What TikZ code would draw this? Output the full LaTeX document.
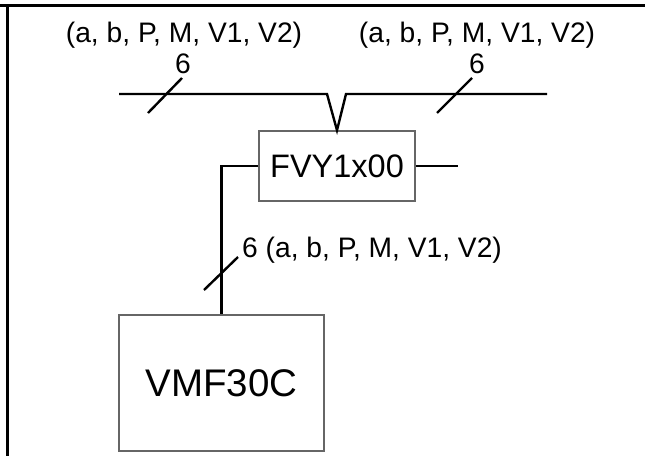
\documentclass[tikz,border=0pt]{standalone}
\usepackage{fontspec}
\setmainfont{Liberation Sans}
\usepackage{xcolor}
\usetikzlibrary{positioning}

\tikzset{
  unit/.style={draw=black!60,line width=1.5pt,inner sep=0pt},
  wire/.style={line width=2.4pt},
  lbl/.style={inner sep=0pt,font=\fontsize{28.2}{31}\selectfont}
}

\begin{document}
\begin{tikzpicture}[x=1pt,y=-1pt]
  \useasboundingbox (0,0) rectangle (647,456);
  % frame
  \draw[line width=3pt] (0,5.5) -- (645,5.5);
  \draw[line width=3pt] (7,5.5) -- (7,456);
  % units
  \node[unit,minimum width=156pt,minimum height=70pt,font=\fontsize{32.5}{35}\selectfont] (fvy) at (337,166) {FVY1x00};
  \node[unit,minimum width=205pt,minimum height=136pt,font=\fontsize{38.5}{42}\selectfont] (vmf) at (221.5,383) {VMF30C};
  % bus
  \coordinate (busL) at (119,94);
  \coordinate (busR) at (547,94);
  \coordinate (vL) at (327,94);
  \coordinate (vR) at (346,94);
  \coordinate (stub) at (458,166);
  \draw[wire] (busL) -- (vL) -- (fvy.north) -- (vR) -- (busR);
  \draw[wire] (fvy.east) -- (stub);
  \draw[wire] (fvy.west) -- (fvy.west -| vmf.north) -- (vmf.north);
  % bundle marks
  \draw[wire] (148,113) -- (182,78);
  \draw[wire] (437,113) -- (472,78);
  \draw[wire] (204,290) -- (238,257);
  % labels
  \node[lbl] (sigL) at (184,35) {(a, b, P, M, V1, V2)};
  \node[lbl] (nL) at (183,64) {6};
  \node[lbl] (sigR) at (477,35) {(a, b, P, M, V1, V2)};
  \node[lbl] (nR) at (477,64) {6};
  \node[lbl,anchor=west] (sigV) at (242,250) {6 (a, b, P, M, V1, V2)};
\end{tikzpicture}
\end{document}
